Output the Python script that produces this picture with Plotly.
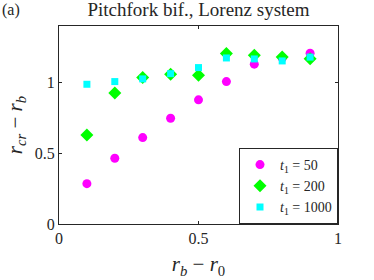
import plotly.graph_objects as go

x_vals = [0.1, 0.2, 0.3, 0.4, 0.5, 0.6, 0.7, 0.8, 0.9]
t50 = [0.285, 0.465, 0.611, 0.748, 0.878, 1.007, 1.13, 1.174, 1.207]
t200 = [0.63, 0.927, 1.035, 1.058, 1.052, 1.205, 1.193, 1.18, 1.168]
t1000 = [0.988, 1.007, 1.026, 1.063, 1.106, 1.174, 1.167, 1.153, 1.18]
tick_vals = [0, 0.5, 1]
tick_text = ["0", "0.5", "1"]

font_family = "Liberation Serif, DejaVu Serif, serif"

fig = go.Figure()
fig.add_trace(go.Scatter(x=x_vals, y=t50, mode="markers", name="<i>t</i><sub>1</sub> = 50",
                         marker=dict(symbol="circle", size=9, color="#ff00ff")))
fig.add_trace(go.Scatter(x=x_vals, y=t200, mode="markers", name="<i>t</i><sub>1</sub> = 200",
                         marker=dict(symbol="diamond", size=10, color="#00ff00")))
fig.add_trace(go.Scatter(x=x_vals, y=t1000, mode="markers", name="<i>t</i><sub>1</sub> = 1000",
                         marker=dict(symbol="square", size=7, color="#00ffff")))

axis_common = dict(showline=True, linecolor="#262626", linewidth=1, mirror="ticks",
                   ticks="inside", ticklen=3, tickcolor="#262626", showgrid=False,
                   zeroline=False, automargin=False,
                   tickfont=dict(family=font_family, size=16, color="#262626"))

fig.update_layout(
    width=374, height=280,
    margin=dict(l=59, r=36, t=26, b=56),
    plot_bgcolor="white", paper_bgcolor="white",
    font=dict(family=font_family, color="#262626"),
    title=dict(text="Pitchfork bif., Lorenz system", x=0.5, xanchor="center", xref="paper",
               y=1, yref="container", yanchor="top", pad=dict(t=3),
               automargin=False,
               font=dict(family=font_family, size=19, color="#262626")),
    xaxis=dict(range=[0, 1], tickvals=tick_vals, ticktext=tick_text,
               title=dict(text="<i>r</i><sub><i>b</i></sub> − <i>r</i><sub>0</sub>", standoff=10,
                          font=dict(family=font_family, size=21, color="#262626")),
               **axis_common),
    yaxis=dict(range=[0, 1.4], tickvals=tick_vals, ticktext=tick_text,
               title=dict(text="<i>r</i><sub><i>cr</i></sub> − <i>r</i><sub><i>b</i></sub>", standoff=6,
                          font=dict(family=font_family, size=21, color="#262626")),
               **axis_common),
    legend=dict(x=1, y=0, xanchor="right", yanchor="bottom", bgcolor="white",
                bordercolor="#262626", borderwidth=1,
                font=dict(family=font_family, size=14, color="#262626"),
                itemwidth=30, tracegroupgap=0),
    showlegend=True,
)
fig.add_annotation(text="(a)", x=0, y=1, xref="paper", yref="paper", xanchor="left", yanchor="bottom",
                   xshift=-59, yshift=5, showarrow=False,
                   font=dict(family=font_family, size=16, color="#262626"))

fig.write_html("out.html", config={"displayModeBar": False},
               post_script="document.body.style.margin='0';document.body.style.overflow='hidden';")
